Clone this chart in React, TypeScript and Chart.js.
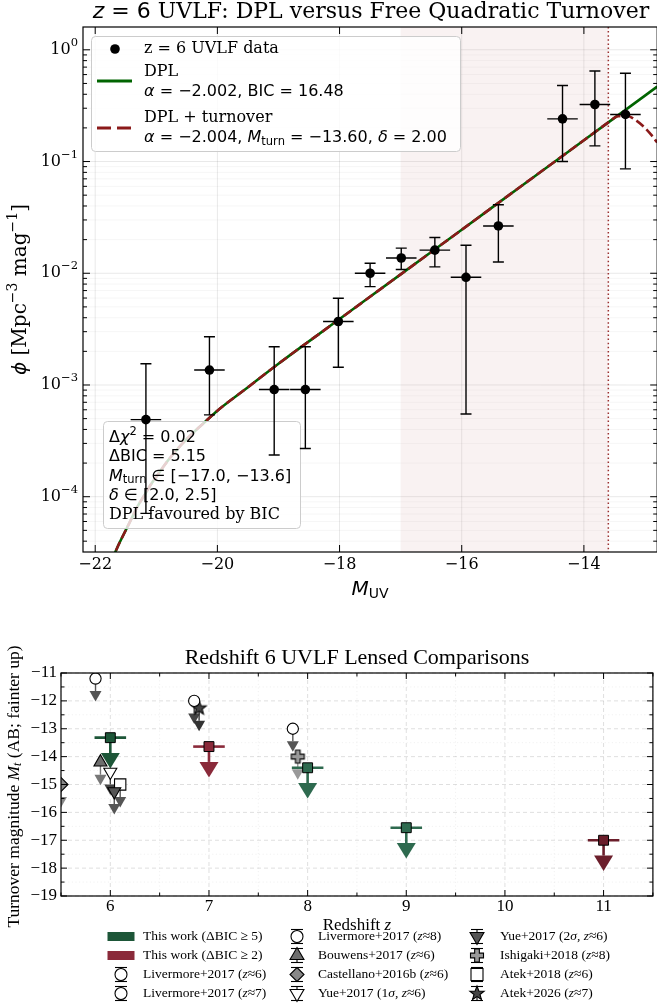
import React, { useEffect, useRef } from "react";
import { Chart, registerables } from "chart.js";

Chart.register(...registerables);

// ---------------- Top panel data ----------------
const UV_M = [-21.17, -20.13, -19.07, -18.56, -18.02, -17.5, -16.99, -16.44, -15.93, -15.4, -14.35, -13.82, -13.32];
const UV_PHI = [4.9e-4, 1.36e-3, 9.1e-4, 9.1e-4, 3.7e-3, 1.0e-2, 1.37e-2, 1.61e-2, 9.2e-3, 2.65e-2, 0.241, 0.324, 0.264];
const UV_PHI_LO = [7.1e-5, 5.4e-4, 2.36e-4, 2.7e-4, 1.44e-3, 7.6e-3, 1.08e-2, 1.14e-2, 5.5e-4, 1.26e-2, 0.1, 0.138, 0.086];
const UV_PHI_HI = [1.55e-3, 2.7e-3, 2.2e-3, 2.2e-3, 5.97e-3, 1.23e-2, 1.68e-2, 2.09e-2, 1.78e-2, 4.11e-2, 0.479, 0.646, 0.616];
const UV_M_ERR = [0.25, 0.25, 0.25, 0.25, 0.25, 0.25, 0.25, 0.25, 0.25, 0.25, 0.25, 0.25, 0.25];

const DPL_M = [-21.75, -21.7, -21.6, -21.5, -21.4, -21.3, -21.2, -21.1, -21.0, -20.8, -20.6, -20.4, -20.2, -20.0, -19.5, -19.0, -18.0, -17.0, -16.0, -15.0, -14.0, -13.6, -13.0, -12.8];
const DPL_PHI = [2.57e-5, 2.95e-5, 3.89e-5, 5.01e-5, 6.46e-5, 8.32e-5, 1.02e-4, 1.26e-4, 1.51e-4, 2.14e-4, 2.88e-4, 3.72e-4, 4.68e-4, 5.89e-4, 9.55e-4, 1.55e-3, 3.89e-3, 9.77e-3, 2.45e-2, 6.17e-2, 0.155, 0.224, 0.389, 0.468];

const TURN_M = [-21.75, -21.7, -21.6, -21.5, -21.4, -21.3, -21.2, -21.1, -21.0, -20.8, -20.6, -20.4, -20.2, -20.0, -19.5, -19.0, -18.0, -17.0, -16.0, -15.0, -14.0, -13.6, -13.45, -13.3, -13.15, -13.0, -12.9, -12.8];
const TURN_PHI = [2.57e-5, 2.95e-5, 3.89e-5, 5.01e-5, 6.46e-5, 8.32e-5, 1.02e-4, 1.26e-4, 1.51e-4, 2.14e-4, 2.88e-4, 3.72e-4, 4.68e-4, 5.89e-4, 9.55e-4, 1.55e-3, 3.89e-3, 9.77e-3, 2.45e-2, 6.17e-2, 0.155, 0.224, 0.254, 0.257, 0.234, 0.2, 0.174, 0.148];

const TURN_WINDOW = [-17.0, -13.6];
const M_TURN = -13.6;
const TOP_X_TICKS = [-22, -20, -18, -16, -14];
const TOP_Y_DECADES = [-4, -3, -2, -1, 0];

// ---------------- Bottom panel data ----------------
const TW5_Z = [6.0, 8.0, 9.0];
const TW5_M = [-13.32, -14.4, -16.55];
const TW5_COLOR = ["#1d5638", "#2e6a4f", "#2e6a4f"];
const TW2_Z = [7.0, 11.0];
const TW2_M = [-13.64, -17.0];
const TW2_COLOR = ["#8a2a3a", "#6b1e2b"];
const TW_ZERR = 0.16;
const TW_ARROW = 0.55;

const LIT_LABEL = [
  "Livermore+2017 (*z*≈6)",
  "Livermore+2017 (*z*≈7)",
  "Livermore+2017 (*z*≈8)",
  "Bouwens+2017 (*z*≈6)",
  "Castellano+2016b (*z*≈6)",
  "Yue+2017 (1*σ*, *z*≈6)",
  "Yue+2017 (2*σ*, *z*≈6)",
  "Ishigaki+2018 (*z*≈8)",
  "Atek+2018 (*z*≈6)",
  "Atek+2026 (*z*≈7)",
];
const LIT_Z = [5.85, 6.85, 7.85, 5.9, 5.5, 6.0, 6.04, 7.9, 6.1, 6.9];
const LIT_M = [-11.2, -12.0, -13.0, -14.2, -15.0, -14.55, -15.25, -14.0, -15.0, -12.26];
const LIT_SHAPE = ["circle", "circle", "circle", "triUp", "diamond", "triDown", "triDown", "plus", "square", "star"];
const LIT_FACE = ["#ffffff", "#ffffff", "#ffffff", "#6e6e6e", "#888888", "#ffffff", "#555555", "#999999", "#ffffff", "#444444"];
const LIT_ARROW_COLOR = ["#555555", "#444444", "#555555", "#777777", "#888888", "#444444", "#555555", "#999999", "#555555", "#333333"];
const LIT_ARROW = 0.45;
const Z_TICKS = [6, 7, 8, 9, 10, 11];
const MT_TICKS = [-19, -18, -17, -16, -15, -14, -13, -12, -11];
const TW_LABELS = ["This work (ΔBIC ≥ 5)", "This work (ΔBIC ≥ 2)"];

// ---------------- helpers ----------------
const SERIF = '"DejaVu Serif"';
const SANS = '"DejaVu Sans"';
const TIMES = '"Liberation Serif"';
const fnt = (size: number, fam: string, style = "") => `${style} ${size}px ${fam}`.trim();

type Run = { t: string; f: string; dy?: number };

function runsWidth(ctx: CanvasRenderingContext2D, runs: Run[]) {
  let w = 0;
  for (const r of runs) {
    ctx.font = r.f;
    w += ctx.measureText(r.t).width;
  }
  return w;
}

function drawRuns(ctx: CanvasRenderingContext2D, runs: Run[], x: number, y: number, align = "left", color = "#000") {
  const w = runsWidth(ctx, runs);
  let cx = align === "left" ? x : align === "center" ? x - w / 2 : x - w;
  ctx.textBaseline = "middle";
  ctx.textAlign = "left";
  ctx.fillStyle = color;
  for (const r of runs) {
    ctx.font = r.f;
    ctx.fillText(r.t, cx, y + (r.dy || 0));
    cx += ctx.measureText(r.t).width;
  }
}

function line(ctx: CanvasRenderingContext2D, x1: number, y1: number, x2: number, y2: number) {
  ctx.beginPath();
  ctx.moveTo(x1, y1);
  ctx.lineTo(x2, y2);
  ctx.stroke();
}

function roundRect(ctx: CanvasRenderingContext2D, x: number, y: number, w: number, h: number, r: number) {
  ctx.beginPath();
  ctx.moveTo(x + r, y);
  ctx.arcTo(x + w, y, x + w, y + h, r);
  ctx.arcTo(x + w, y + h, x, y + h, r);
  ctx.arcTo(x, y + h, x, y, r);
  ctx.arcTo(x, y, x + w, y, r);
  ctx.closePath();
}

function shapePath(g: CanvasRenderingContext2D, shape: string, x: number, y: number, r: number) {
  g.beginPath();
  if (shape === "circle") g.arc(x, y, r, 0, Math.PI * 2);
  else if (shape === "square") g.rect(x - r, y - r, 2 * r, 2 * r);
  else if (shape === "triUp") {
    g.moveTo(x, y - r);
    g.lineTo(x + r * 0.87, y + r * 0.5);
    g.lineTo(x - r * 0.87, y + r * 0.5);
    g.closePath();
  } else if (shape === "triDown") {
    g.moveTo(x, y + r);
    g.lineTo(x + r * 0.87, y - r * 0.5);
    g.lineTo(x - r * 0.87, y - r * 0.5);
    g.closePath();
  } else if (shape === "diamond") {
    g.moveTo(x, y - r);
    g.lineTo(x + r, y);
    g.lineTo(x, y + r);
    g.lineTo(x - r, y);
    g.closePath();
  } else if (shape === "plus") {
    const t = r * 0.36;
    const pts = [
      [-t, -r], [t, -r], [t, -t], [r, -t], [r, t], [t, t], [t, r], [-t, r], [-t, t], [-r, t], [-r, -t], [-t, -t],
    ];
    pts.forEach((p, i) => (i === 0 ? g.moveTo(x + p[0], y + p[1]) : g.lineTo(x + p[0], y + p[1])));
    g.closePath();
  } else if (shape === "star") {
    for (let i = 0; i < 10; i++) {
      const ang = -Math.PI / 2 + (i * Math.PI) / 5;
      const rr = i % 2 === 0 ? r : r * 0.42;
      const px = x + rr * Math.cos(ang);
      const py = y + rr * Math.sin(ang);
      if (i === 0) g.moveTo(px, py);
      else g.lineTo(px, py);
    }
    g.closePath();
  }
}

function drawShape(g: CanvasRenderingContext2D, shape: string, x: number, y: number, r: number, fill: string, stroke: string, lw: number) {
  shapePath(g, shape, x, y, r);
  g.fillStyle = fill;
  g.fill();
  g.lineWidth = lw;
  g.strokeStyle = stroke;
  g.lineJoin = "miter";
  g.stroke();
}

// legend marker sizes
const LEG_R: Record<string, number> = { circle: 6, square: 6, triUp: 8, triDown: 8, diamond: 7, plus: 6.5, star: 7.5 };

function makeMarker(shape: string, fill: string, r: number) {
  const s = Math.ceil(2 * r + 4);
  const c = document.createElement("canvas");
  c.width = s;
  c.height = s;
  const g = c.getContext("2d")!;
  drawShape(g, shape, s / 2, s / 2, r, fill, "#000", 1.1);
  return c;
}

// map a shape to Chart.js point style options
function pointOpts(shape: string, fill: string) {
  if (shape === "circle") return { pointStyle: "circle", pointRadius: 5.6, pointRotation: 0 };
  if (shape === "triUp") return { pointStyle: "triangle", pointRadius: 7.5, pointRotation: 0 };
  if (shape === "triDown") return { pointStyle: "triangle", pointRadius: 7.5, pointRotation: 180 };
  if (shape === "diamond") return { pointStyle: "rectRot", pointRadius: 7, pointRotation: 0 };
  if (shape === "square") return { pointStyle: "rect", pointRadius: 8, pointRotation: 0 };
  if (shape === "plus") return { pointStyle: makeMarker("plus", fill, 6.5), pointRadius: 6, pointRotation: 0 };
  return { pointStyle: makeMarker("star", fill, 7.5), pointRadius: 6, pointRotation: 0 };
}

function parseLabel(label: string, size: number): Run[] {
  return label.split("*").map((t, i) => ({ t, f: fnt(size, TIMES, i % 2 === 1 ? "italic" : "") }));
}

// ---------------- Top chart plugin ----------------
const topPlugin = {
  id: "topDecor",
  beforeDatasetsDraw(chart: any) {
    const { ctx, chartArea: a, scales } = chart;
    const x = scales.x, y = scales.y;
    ctx.save();
    ctx.lineWidth = 0.8;
    ctx.strokeStyle = "rgba(0,0,0,0.05)";
    for (let d = -5; d <= 0; d++) {
      for (let k = 2; k <= 9; k++) {
        const py = y.getPixelForValue(k * Math.pow(10, d));
        if (py < a.top || py > a.bottom) continue;
        line(ctx, a.left, py, a.right, py);
      }
    }
    ctx.strokeStyle = "rgba(0,0,0,0.1)";
    ctx.lineWidth = 0.9;
    for (const d of TOP_Y_DECADES) {
      const py = y.getPixelForValue(Math.pow(10, d));
      line(ctx, a.left, py, a.right, py);
    }
    for (const v of TOP_X_TICKS) {
      const px = x.getPixelForValue(v);
      line(ctx, px, a.top, px, a.bottom);
    }
    const x0 = x.getPixelForValue(TURN_WINDOW[0]);
    const x1 = x.getPixelForValue(TURN_WINDOW[1]);
    ctx.fillStyle = "rgba(139,26,26,0.055)";
    ctx.fillRect(x0, a.top, x1 - x0, a.bottom - a.top);
    const xt = x.getPixelForValue(M_TURN);
    ctx.strokeStyle = "#9b3030";
    ctx.lineWidth = 1.5;
    ctx.setLineDash([1.5, 2.6]);
    line(ctx, xt, a.top, xt, a.bottom);
    ctx.setLineDash([]);
    ctx.restore();
  },
  afterDatasetDraw(chart: any, args: any) {
    if (args.index !== 1) return;
    const { ctx } = chart;
    ctx.save();
    ctx.fillStyle = "rgba(255,255,255,0.8)";
    ctx.strokeStyle = "#cccccc";
    ctx.lineWidth = 1;
    roundRect(ctx, 91.5, 36.5, 369, 115, 4);
    ctx.fill();
    ctx.stroke();
    roundRect(ctx, 103.5, 421.5, 197, 107, 4);
    ctx.fill();
    ctx.stroke();
    ctx.restore();
  },
  afterDatasetsDraw(chart: any) {
    const { ctx, chartArea: a, scales } = chart;
    const x = scales.x, y = scales.y;
    ctx.save();
    ctx.beginPath();
    ctx.rect(a.left, a.top, a.right - a.left, a.bottom - a.top);
    ctx.clip();
    ctx.strokeStyle = "#000";
    ctx.lineWidth = 1.4;
    UV_M.forEach((m, i) => {
      const px = x.getPixelForValue(m);
      const py = y.getPixelForValue(UV_PHI[i]);
      const pl = y.getPixelForValue(UV_PHI_LO[i]);
      const ph = y.getPixelForValue(UV_PHI_HI[i]);
      line(ctx, px, pl, px, ph);
      line(ctx, px - 5.5, pl, px + 5.5, pl);
      line(ctx, px - 5.5, ph, px + 5.5, ph);
      line(ctx, x.getPixelForValue(m - UV_M_ERR[i]), py, x.getPixelForValue(m + UV_M_ERR[i]), py);
    });
    ctx.restore();

    ctx.save();
    ctx.fillStyle = "#000";
    ctx.beginPath();
    ctx.arc(115, 49, 4.8, 0, Math.PI * 2);
    ctx.fill();
    drawRuns(ctx, [{ t: "z = 6 UVLF data", f: fnt(16, SERIF) }], 144, 49);
    ctx.lineWidth = 2.8;
    ctx.strokeStyle = "#006400";
    line(ctx, 97, 81, 132, 81);
    drawRuns(ctx, [{ t: "DPL", f: fnt(16, SERIF) }], 144, 72);
    drawRuns(ctx, [{ t: "α", f: fnt(16, SANS, "italic") }, { t: " = −2.002, BIC = 16.48", f: fnt(16, SANS) }], 144, 92);
    ctx.strokeStyle = "#8B1A1A";
    ctx.setLineDash([14, 6]);
    line(ctx, 97, 128, 132, 128);
    ctx.setLineDash([]);
    drawRuns(ctx, [{ t: "DPL + turnover", f: fnt(16, SERIF) }], 144, 118);
    drawRuns(
      ctx,
      [
        { t: "α", f: fnt(16, SANS, "italic") },
        { t: " = −2.004, ", f: fnt(16, SANS) },
        { t: "M", f: fnt(16, SANS, "italic") },
        { t: "turn", f: fnt(11.5, SANS), dy: 4 },
        { t: " = −13.60, ", f: fnt(16, SANS) },
        { t: "δ", f: fnt(16, SANS, "italic") },
        { t: " = 2.00", f: fnt(16, SANS) },
      ],
      144,
      138
    );
    const tx = 109;
    drawRuns(ctx, [{ t: "Δ", f: fnt(16, SANS) }, { t: "χ", f: fnt(16, SANS, "italic") }, { t: "2", f: fnt(11.5, SANS), dy: -6 }, { t: " = 0.02", f: fnt(16, SANS) }], tx, 438);
    drawRuns(ctx, [{ t: "ΔBIC = 5.15", f: fnt(16, SANS) }], tx, 457);
    drawRuns(ctx, [{ t: "M", f: fnt(16, SANS, "italic") }, { t: "turn", f: fnt(11.5, SANS), dy: 4 }, { t: " ∈ [−17.0, −13.6]", f: fnt(16, SANS) }], tx, 476.5);
    drawRuns(ctx, [{ t: "δ", f: fnt(16, SANS, "italic") }, { t: " ∈ [2.0, 2.5]", f: fnt(16, SANS) }], tx, 495.5);
    drawRuns(ctx, [{ t: "DPL favoured by BIC", f: fnt(16, SERIF) }], tx, 514.5);
    ctx.restore();
  },
  afterDraw(chart: any) {
    const { ctx, chartArea: a, scales } = chart;
    const x = scales.x, y = scales.y;
    ctx.save();
    ctx.strokeStyle = "#000";
    ctx.lineWidth = 1.2;
    ctx.strokeRect(a.left, a.top, a.right - a.left, a.bottom - a.top);
    ctx.lineWidth = 1;
    for (const v of TOP_X_TICKS) {
      const px = x.getPixelForValue(v);
      line(ctx, px, a.bottom, px, a.bottom - 7);
      line(ctx, px, a.top, px, a.top + 7);
      drawRuns(ctx, [{ t: "−" + Math.abs(v), f: fnt(16, SERIF) }], px, a.bottom + 13, "center");
    }
    for (let d = -5; d <= 0; d++) {
      for (let k = 1; k <= 9; k++) {
        const py = y.getPixelForValue(k * Math.pow(10, d));
        if (py < a.top - 0.5 || py > a.bottom + 0.5) continue;
        const len = k === 1 ? 7 : 4;
        line(ctx, a.left, py, a.left + len, py);
        line(ctx, a.right, py, a.right - len, py);
      }
    }
    for (const d of TOP_Y_DECADES) {
      const py = y.getPixelForValue(Math.pow(10, d));
      drawRuns(ctx, [{ t: "10", f: fnt(16, SERIF) }, { t: d === 0 ? "0" : "−" + -d, f: fnt(11.5, SERIF), dy: -7 }], a.left - 5, py, "right");
    }
    drawRuns(ctx, [{ t: "M", f: fnt(20, SANS, "italic") }, { t: "UV", f: fnt(14, SANS), dy: 4 }], (a.left + 657) / 2, 590, "center");
    ctx.save();
    ctx.translate(21, (a.top + a.bottom) / 2);
    ctx.rotate(-Math.PI / 2);
    drawRuns(
      ctx,
      [
        { t: "ϕ", f: fnt(20, SANS, "italic") },
        { t: " [Mpc", f: fnt(20, SERIF) },
        { t: "−3", f: fnt(14, SERIF), dy: -8 },
        { t: " mag", f: fnt(20, SERIF) },
        { t: "−1", f: fnt(14, SERIF), dy: -8 },
        { t: "]", f: fnt(20, SERIF) },
      ],
      0,
      0,
      "center"
    );
    ctx.restore();
    drawRuns(
      ctx,
      [
        { t: "z", f: fnt(22, SANS, "italic") },
        { t: " = 6", f: fnt(22, SANS) },
        { t: " UVLF: DPL versus Free Quadratic Turnover", f: fnt(22, SERIF) },
      ],
      371,
      12,
      "center"
    );
    ctx.restore();
  },
};

// ---------------- Bottom chart plugin ----------------
function caretDown(ctx: CanvasRenderingContext2D, x: number, yb: number, w: number, h: number, color: string) {
  ctx.beginPath();
  ctx.moveTo(x - w / 2, yb);
  ctx.lineTo(x + w / 2, yb);
  ctx.lineTo(x, yb + h);
  ctx.closePath();
  ctx.fillStyle = color;
  ctx.fill();
}

const botPlugin = {
  id: "botDecor",
  beforeDatasetsDraw(chart: any) {
    const { ctx, chartArea: a, scales } = chart;
    const x = scales.x, y = scales.y;
    ctx.save();
    ctx.lineWidth = 0.8;
    ctx.strokeStyle = "rgba(0,0,0,0.08)";
    ctx.setLineDash([1.2, 2.4]);
    for (let v = 5.5; v <= 11.5; v += 1) line(ctx, x.getPixelForValue(v), a.top, x.getPixelForValue(v), a.bottom);
    for (let v = -18.5; v <= -11.5; v += 1) line(ctx, a.left, y.getPixelForValue(v), a.right, y.getPixelForValue(v));
    ctx.strokeStyle = "rgba(0,0,0,0.16)";
    ctx.setLineDash([4, 3]);
    for (const v of Z_TICKS) line(ctx, x.getPixelForValue(v), a.top, x.getPixelForValue(v), a.bottom);
    for (const v of MT_TICKS) line(ctx, a.left, y.getPixelForValue(v), a.right, y.getPixelForValue(v));
    ctx.setLineDash([]);

    ctx.beginPath();
    ctx.rect(a.left, a.top, a.right - a.left, a.bottom - a.top);
    ctx.clip();
    LIT_Z.forEach((z, i) => {
      const px = x.getPixelForValue(z);
      const py = y.getPixelForValue(LIT_M[i]);
      const pb = y.getPixelForValue(LIT_M[i] - LIT_ARROW);
      ctx.strokeStyle = LIT_ARROW_COLOR[i];
      ctx.lineWidth = 1.4;
      line(ctx, px, py, px, pb);
      caretDown(ctx, px, pb, 12, 10.5, LIT_ARROW_COLOR[i]);
    });
    const drawTW = (zs: number[], ms: number[], cols: string[]) => {
      zs.forEach((z, i) => {
        const px = x.getPixelForValue(z);
        const py = y.getPixelForValue(ms[i]);
        const pb = y.getPixelForValue(ms[i] - TW_ARROW);
        ctx.strokeStyle = cols[i];
        ctx.lineWidth = 2.6;
        line(ctx, x.getPixelForValue(z - TW_ZERR), py, x.getPixelForValue(z + TW_ZERR), py);
        line(ctx, px, py, px, pb);
        caretDown(ctx, px, pb, 19, 15.5, cols[i]);
      });
    };
    drawTW(TW5_Z, TW5_M, TW5_COLOR);
    drawTW(TW2_Z, TW2_M, TW2_COLOR);
    ctx.restore();
  },
  afterDraw(chart: any) {
    const { ctx, chartArea: a, scales } = chart;
    const x = scales.x, y = scales.y;
    ctx.save();
    ctx.strokeStyle = "#000";
    ctx.lineWidth = 1.2;
    ctx.strokeRect(a.left, a.top, a.right - a.left, a.bottom - a.top);
    ctx.lineWidth = 1;
    for (let v = 5.5; v <= 11.51; v += 0.5) {
      const px = x.getPixelForValue(v);
      const major = Math.abs(v - Math.round(v)) < 1e-6;
      const len = major ? 6 : 3.5;
      line(ctx, px, a.bottom, px, a.bottom - len);
      line(ctx, px, a.top, px, a.top + len);
    }
    for (let v = -19; v <= -10.99; v += 0.5) {
      const py = y.getPixelForValue(v);
      const major = Math.abs(v - Math.round(v)) < 1e-6;
      const len = major ? 6 : 3.5;
      line(ctx, a.left, py, a.left + len, py);
      line(ctx, a.right, py, a.right - len, py);
    }
    for (const v of Z_TICKS) drawRuns(ctx, [{ t: String(v), f: fnt(17, TIMES) }], x.getPixelForValue(v), a.bottom + 11, "center");
    for (const v of MT_TICKS) drawRuns(ctx, [{ t: "−" + Math.abs(v), f: fnt(17, TIMES) }], a.left - 4, y.getPixelForValue(v), "right");
    drawRuns(ctx, [{ t: "Redshift 6 UVLF Lensed Comparisons", f: fnt(22, TIMES) }], (a.left + a.right) / 2, 48, "center");
    drawRuns(ctx, [{ t: "Redshift ", f: fnt(17, TIMES) }, { t: "z", f: fnt(17, TIMES, "italic") }], (a.left + a.right) / 2, 316, "center");
    ctx.save();
    ctx.translate(14, (a.top + a.bottom) / 2 + 2);
    ctx.rotate(-Math.PI / 2);
    drawRuns(
      ctx,
      [
        { t: "Turnover magnitude ", f: fnt(17.5, TIMES) },
        { t: "M", f: fnt(17.5, TIMES, "italic") },
        { t: "t", f: fnt(12, TIMES, "italic"), dy: 4 },
        { t: " (AB; fainter up)", f: fnt(17.5, TIMES) },
      ],
      0,
      0,
      "center"
    );
    ctx.restore();

    // legend
    const colHandle = [121, 297, 477];
    const colText = [143, 318, 500];
    const rowY = [326.5, 345.5, 364.5, 383.5];
    const fs = 13.5;
    const entries: { label: string; kind: string; color: string }[] = [
      { label: TW_LABELS[0], kind: "patch", color: TW5_COLOR[0] },
      { label: TW_LABELS[1], kind: "patch", color: TW2_COLOR[0] },
      ...LIT_LABEL.map((l, i) => ({ label: l, kind: LIT_SHAPE[i], color: LIT_FACE[i] })),
    ];
    entries.forEach((e, i) => {
      const col = Math.floor(i / 4);
      const row = i % 4;
      const hx = colHandle[col];
      const hy = rowY[row];
      if (e.kind === "patch") {
        ctx.fillStyle = e.color;
        ctx.fillRect(hx - 13.5, hy - 4.5, 27, 9);
      } else {
        ctx.strokeStyle = "#000";
        ctx.lineWidth = 1.1;
        line(ctx, hx, hy - 7, hx, hy + 7);
        line(ctx, hx - 6, hy - 7, hx + 6, hy - 7);
        line(ctx, hx - 6, hy + 7, hx + 6, hy + 7);
        drawShape(ctx, e.kind, hx, hy, LEG_R[e.kind], e.color, "#000", 1.1);
      }
      drawRuns(ctx, parseLabel(e.label, fs), colText[col], hy);
    });
    ctx.restore();
  },
};

export default function App() {
  const topRef = useRef<HTMLCanvasElement>(null);
  const botRef = useRef<HTMLCanvasElement>(null);

  useEffect(() => {
    const top = new Chart(topRef.current!, {
      type: "line",
      data: {
        datasets: [
          {
            label: "z = 6 UVLF data",
            data: UV_M.map((m, i) => ({ x: m, y: UV_PHI[i] })),
            showLine: false,
            pointRadius: 4.8,
            pointBackgroundColor: "#000",
            pointBorderColor: "#000",
            pointBorderWidth: 0,
          },
          {
            label: "DPL + turnover",
            data: TURN_M.map((m, i) => ({ x: m, y: TURN_PHI[i] })),
            borderColor: "#8B1A1A",
            borderWidth: 2.6,
            borderDash: [9.3, 4],
            pointRadius: 0,
            cubicInterpolationMode: "monotone",
            clip: 0,
          },
          {
            label: "DPL",
            data: DPL_M.map((m, i) => ({ x: m, y: DPL_PHI[i] })),
            borderColor: "#006400",
            borderWidth: 2.6,
            pointRadius: 0,
            cubicInterpolationMode: "monotone",
            clip: 0,
          },
        ],
      } as any,
      options: {
        animation: false,
        responsive: false,
        devicePixelRatio: 1,
        events: [],
        layout: { padding: { left: 83, top: 27, right: 3, bottom: 58 } },
        plugins: { legend: { display: false }, tooltip: { enabled: false }, title: { display: false } },
        scales: {
          x: { type: "linear", min: -22.2, max: -12.8, bounds: "data", display: false },
          y: { type: "logarithmic", min: 3.2e-5, max: 1.6, bounds: "data", display: false },
        },
      } as any,
      plugins: [topPlugin],
    });

    const litSets = LIT_Z.map((z, i) => ({
      label: LIT_LABEL[i],
      data: [{ x: z, y: LIT_M[i] }],
      ...pointOpts(LIT_SHAPE[i], LIT_FACE[i]),
      pointBackgroundColor: LIT_FACE[i],
      pointBorderColor: "#000",
      pointBorderWidth: 1.1,
      clip: 0,
    }));
    const bot = new Chart(botRef.current!, {
      type: "scatter",
      data: {
        datasets: [
          {
            label: TW_LABELS[0],
            data: TW5_Z.map((z, i) => ({ x: z, y: TW5_M[i] })),
            pointStyle: "rect",
            pointRadius: 7,
            pointBackgroundColor: TW5_COLOR,
            pointBorderColor: "#000",
            pointBorderWidth: 1,
            clip: 0,
          },
          {
            label: TW_LABELS[1],
            data: TW2_Z.map((z, i) => ({ x: z, y: TW2_M[i] })),
            pointStyle: "rect",
            pointRadius: 7,
            pointBackgroundColor: TW2_COLOR,
            pointBorderColor: "#000",
            pointBorderWidth: 1,
            clip: 0,
          },
          ...litSets,
        ],
      } as any,
      options: {
        animation: false,
        responsive: false,
        devicePixelRatio: 1,
        events: [],
        layout: { padding: { left: 61, top: 63, right: 1, bottom: 112 } },
        plugins: { legend: { display: false }, tooltip: { enabled: false }, title: { display: false } },
        scales: {
          x: { type: "linear", min: 5.5, max: 11.5, bounds: "data", display: false },
          y: { type: "linear", min: -19, max: -11, bounds: "data", display: false },
        },
      } as any,
      plugins: [botPlugin],
    });

    return () => {
      top.destroy();
      bot.destroy();
    };
  }, []);

  return (
    <div style={{ position: "fixed", left: 0, top: 0, width: 657, height: 1008, overflow: "hidden", background: "#fff" }}>
      <canvas ref={topRef} width={662} height={610} style={{ position: "absolute", left: 0, top: 0, width: 662, height: 610 }} />
      <canvas ref={botRef} width={662} height={398} style={{ position: "absolute", left: 0, top: 610, width: 662, height: 398 }} />
    </div>
  );
}
